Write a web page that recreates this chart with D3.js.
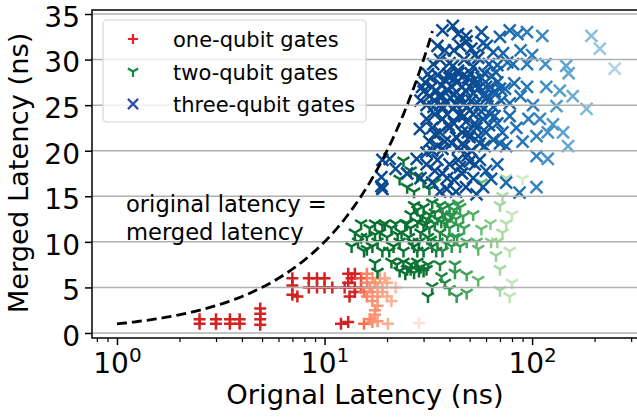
<!DOCTYPE html>
<html>
<head>
<meta charset="utf-8">
<script src="https://cdn.jsdelivr.net/npm/d3@7"></script>
<style>
  html, body { margin: 0; padding: 0; background: #fff; }
  svg { display: block; font-family: "DejaVu Sans", sans-serif; }
</style>
</head>
<body>
<svg id="chart" width="637" height="418"></svg>
<script>
// ---------------- data ----------------
const seriesNames = ["one-qubit gates", "two-qubit gates", "three-qubit gates"];
const yTicks = [0, 5, 10, 15, 20, 25, 30, 35];
const xTicks = [1, 10, 100];

// [original latency, merged latency]
const oneQubit = [
  [2.5,1],[2.5,1.5],[3,1],[3,1.5],[3.5,1],[3.5,1.5],[3.9,1],[3.9,1.5],
  [4.9,0.9],[4.9,1.5],[4.9,2.1],[4.9,2.7],
  [7,6],[7,5.2],[7,4.2],[7.4,4],[8.4,6],[8.4,5],[9.2,6],[9.2,5],[10,6],[10,5],[10.9,5],
  [12.5,5],[13,6.5],[13,5.5],[13.5,6],[14,6.5],[14,5],[14,4.5],[13.2,4],
  [15,6],[15,5],[15.5,4.5],[16,6.5],[16,5.5],[16,4],[16.5,5],[17,6],[17,4.5],[17,3.5],
  [17.5,5.5],[18,5],[18,4],[18,3],[18.5,6],[19,5],[19,4.5],[19.5,6],[20,5.5],[20,4],
  [21,3.5],[22,5],[17.5,2.5],
  [12,1],[13,1.2],[15.5,1],[16.5,1.5],[17,1.2],[17.5,2],[18,1.3],[20.2,1],[28.5,1.1]
];
const twoQubit = [
  [13.5,9.5],[14,11],[14.5,10],[15,12],[15.5,9],[16,10.5],[16.5,11.5],[17,9.5],[17.5,12],
  [18,10],[18.5,11],[19,9],[19.5,12],[20,10.5],[21,11.5],[21.5,9.5],[22,12],[23,10],
  [23.5,11],[24,9],[25,12],[25.5,10.5],[26,11.5],[27,9.5],[28,12.2],[28.5,10],[29,11],
  [30,9],[31,12],[31.5,10.5],[32,11.5],[33,9.5],[34,12],[35,10],[36,11],[37,9],[38,12],
  [39,10.5],[40,11.5],[41,9.5],[42,10.5],[44,11.8],[45,9.5],[48.4,10],[54,10],[55,9.2],
  [57,11.4],[63.5,10],[72,11],[78,9],
  [15,10.5],[16,9.2],[17.5,10.8],[19,11.8],[20.5,9],[22.5,10.8],[24.5,12],[26.5,10],
  [28,9],[30,11.8],[32.5,10.2],[34.5,9],[36.5,12.2],[38.5,9.8],[40.5,12.8],[43.5,10.5],
  [47,11.5],
  [26,13],[27,14],[29,12.8],[30,13.8],[31,12.5],[33,14.3],[34,13.2],[35,12.5],[36,14],
  [38,13],[39,12.3],[40,14],[42,13.5],[43,12.5],[45,13.8],[46.5,12.8],[52,13],[63,12],
  [70,14],[80,13],[28,13.5],[32,13],[37,13.6],[41,13],[44,14.2],
  [23,16.9],[24,18.9],[25,16],[26,17.8],[28,17.2],[30,16.6],[32,15.8],[27,15.5],[34,16.5],
  [57,16.5],[90,16.9],[75,17],
  [17.5,7.7],[18,6.7],[22.3,7.5],[23,6.8],[24,7.8],[25,7],[26,7.5],[27,6.6],[28,7.8],
  [29,7.2],[30,6.8],[31.5,7.5],[36,7.5],[36.6,6.2],[42.5,7.5],[42.5,6.6],[48.4,6.4],
  [26,7],[28.5,6.8],[31,7],[24.5,6.5],[21,7.8],
  [33,5.1],[31.5,4],[43.3,4],[48.4,4.4],[38,5.5],[40,4.8],[55,5.8],
  [70,7],[70,4.7],[78,4],[67,8.5],[75,12],[68,10],[80,5.5],[72,15]
];
const threeQubit = [
  [37,33.2],[41.5,33.7],[44,32.8],[48,32.6],[57,33],[78,33.2],[85,32.8],[94.5,33],
  [112,32.6],[193,32.6],[212,31.2],[250,29],
  [33.4,29.5],[36,30],[38,31],[41.5,29.3],[45,31.5],[48.4,32],[51,31.2],[55,30.2],
  [58,31.8],[60.5,31.5],[65,30.8],[68,29.4],[72.5,30.7],[76,29.7],[81,29.5],[94.5,29.5],
  [100,30.5],[116,29.5],[146,29.3],[150,28.5],[40,29.6],[52,29.2],[44,28.8],
  [47,30],[53,30.5],[62,29.5],[88,31],[70,32.5],[35,31.5],[42,31],
  [29,25.5],[30,26.5],[30.5,27.5],[31,25],[32,26],[32.5,28],[33,27],[34,25.5],[34.5,26.5],
  [35,28.3],[36,25],[36.5,27.2],[37,26],[38,27.8],[38.5,25.3],[39,26.7],[40,28],
  [40.5,25.8],[41,27],[42,26.2],[43,25],[43.5,27.5],[44,28.5],[45,26],[46,27],[47,25.2],
  [48,26.5],[49,28],[50,27],[51,25.5],[52,26.3],[53,27.8],[55,26.8],[56,25],[57,28],
  [58,26],[60,27],[62,25.5],[64,28.2],[66,26.5],[68,27.5],[71,25.5],[74,26.8],[78,25.2],
  [82,27.4],[88,26],[94.5,27],[101,25],[117,27],[131,24.9],[136,26.6],[157,26],[183,24.6],
  [29.5,27],[31.5,28.4],[33.5,24.8],[35.5,26],[37.5,24.7],[39.5,28.4],[41.5,24.6],
  [42.5,28],[44.5,25.5],[46.5,28.2],[48.5,24.8],[50.5,28.5],[53,25],[54,27.3],[59,28.5],
  [61,26],[63,27],[65,24.8],[67,28.6],[70,26.8],
  [28.8,22.4],[31,23.5],[32,21],[33,22.5],[34,24],[35,20.5],[36,22],[37,23.5],[38,21],
  [39,24],[40,22.5],[41,20.8],[42,23],[43,21.5],[45,24],[46,22],[47,20.5],[48,23.2],
  [50,21.5],[52,24],[54,22.5],[56,20.8],[58,23.5],[60,22],[63,24],[65,21.2],[68,23],
  [72,22],[75,20.5],[78,23.8],[84,22.5],[90,21],[96,23.5],[105,21.6],[109,23.5],
  [119,22],[126,22.9],[141,22],[149,20.5],
  [33,20],[34,21.8],[37,20.2],[39.5,22.8],[44,20.3],[47,23.8],[49,22],[51,20],[53,23],
  [55,21.6],[57,24.3],[59,20.5],[62,22.8],[66,23.8],[70,20.8],
  [19,19],[18.8,16.1],[18.8,17.1],[20.6,19.1],[19,15.8],[22,18],[25,17.5],[27.8,19.1],
  [29,17],[31,18.5],[33,16.5],[35,19],[37,17.5],[38.8,15.8],[40,18.5],[42,16.8],[44,19],
  [46,17.5],[48,16],[50,18.8],[52,17],[54,15.2],[56,19],[60,17.8],[63.5,16.9],[68,18.5],
  [75,16.5],[87,15.4],[105,19.4],[105,16],[119,19.1],
  [31,19.8],[34,17.8],[36,15.5],[39,17],[43,15.5],[45,18.2],[49,19.5],[53,18.5],[58,16]
];

// ---------------- layout ----------------
const plot = { left: 92, right: 640, top: 10, bottom: 338 };
const svg = d3.select("#chart");

const x = d3.scaleLog().domain([0.758, 331]).range([plot.left, plot.right]);
const y = d3.scaleLinear().domain([-0.55, 35.44]).range([plot.bottom, plot.top]);

// colour shading per series (by original latency)
const redT = d3.scaleLog().domain([14, 16, 30]).range([0.72, 0.42, 0.08]).clamp(true);
const greenT = d3.scaleLog().domain([30, 50, 85]).range([0.85, 0.62, 0.22]).clamp(true);
const blueT = d3.scaleLog().domain([50, 100, 260]).range([0.9, 0.7, 0.3]).clamp(true);

const markers = {
  plus: "M-6,0H6M0,-6V6",
  tri: "M0,0V6.5M0,0L-6,-3.6M0,0L6,-3.6",
  cross: "M-6,-6L6,6M-6,6L6,-6"
};

svg.append("clipPath").attr("id", "clip")
  .append("rect").attr("x", plot.left).attr("y", plot.top)
  .attr("width", plot.right - plot.left).attr("height", plot.bottom - plot.top);

const pts = svg.append("g").attr("clip-path", "url(#clip)");

function drawSeries(data, path, colorFn) {
  pts.append("g").selectAll("path").data(data).join("path")
    .attr("d", path)
    .attr("transform", d => `translate(${x(d[0])},${y(d[1])})`)
    .attr("fill", "none")
    .attr("stroke", d => colorFn(d))
    .attr("stroke-width", 2.5);
}
drawSeries(oneQubit, markers.plus, d => d3.interpolateReds(redT(d[0])));
drawSeries(twoQubit, markers.tri, d => d3.interpolateGreens(greenT(d[0])));
drawSeries(threeQubit, markers.cross, d => d3.interpolateBlues(blueT(d[0])));

// gridlines (drawn above the markers)
svg.append("g")
  .selectAll("line").data(yTicks).join("line")
  .attr("x1", plot.left).attr("x2", plot.right)
  .attr("y1", d => y(d)).attr("y2", d => y(d))
  .attr("stroke", "#b0b0b0").attr("stroke-width", 1.5);

// reference line y = x
const refX = d3.range(0, 1.532, 0.02).map(v => Math.pow(10, v));
svg.append("path")
  .datum(refX)
  .attr("d", d3.line().x(d => x(d)).y(d => y(d)))
  .attr("fill", "none").attr("stroke", "#000")
  .attr("stroke-width", 2.8).attr("stroke-dasharray", "10,5");

// axes
const yAxis = d3.axisLeft(y).tickValues(yTicks).tickSize(7).tickPadding(5);
const gy = svg.append("g").attr("transform", `translate(${plot.left},0)`).call(yAxis);
gy.select(".domain").remove();
gy.selectAll(".tick line").attr("stroke-width", 1.5);
gy.selectAll(".tick text").attr("font-size", 28).attr("fill", "#000")
  .attr("font-family", "DejaVu Sans").attr("dy", "0.44em");

const minor = [0.8, 0.9];
[2,3,4,5,6,7,8,9].forEach(m => { minor.push(m); minor.push(m * 10); minor.push(m * 100); });
const minorTicks = minor.filter(v => v >= 0.758 && v <= 331);

const gxm = svg.append("g").attr("transform", `translate(0,${plot.bottom})`)
  .call(d3.axisBottom(x).tickValues(minorTicks).tickSize(4).tickFormat(""));
gxm.select(".domain").remove();
gxm.selectAll(".tick line").attr("stroke-width", 1.2);

const gx = svg.append("g").attr("transform", `translate(0,${plot.bottom})`)
  .call(d3.axisBottom(x).tickValues(xTicks).tickSize(7).tickFormat(""));
gx.select(".domain").remove();
gx.selectAll(".tick line").attr("stroke-width", 1.5);
gx.selectAll(".tick").append("text")
  .attr("y", 35).attr("text-anchor", "middle").attr("fill", "#000")
  .attr("font-size", 28).attr("font-family", "DejaVu Sans")
  .each(function(d) {
    const t = d3.select(this);
    t.append("tspan").text("10");
    t.append("tspan").attr("font-size", 20).attr("dy", -11).text(String(Math.round(Math.log10(d))));
  });

// spines
svg.append("rect")
  .attr("x", plot.left).attr("y", plot.top)
  .attr("width", plot.right - plot.left).attr("height", plot.bottom - plot.top)
  .attr("fill", "none").attr("stroke", "#000").attr("stroke-width", 1.5);

// axis labels
svg.append("text")
  .attr("x", 365).attr("y", 404).attr("text-anchor", "middle")
  .attr("font-size", 27.3).attr("fill", "#000")
  .text("Orignal Latency (ns)");
svg.append("text")
  .attr("transform", "translate(28,173) rotate(-90)")
  .attr("text-anchor", "middle")
  .attr("font-size", 27.3).attr("fill", "#000")
  .text("Merged Latency (ns)");

// annotation
const ann = svg.append("text").attr("font-size", 22.6).attr("fill", "#000");
ann.append("tspan").attr("x", 126).attr("y", 212).text("original latency =");
ann.append("tspan").attr("x", 126).attr("y", 239.5).text("merged latency");

// legend
const legendColors = ["#e8202a", "#168a3c", "#2c4fa8"];
const legendPaths = [markers.plus, markers.tri, markers.cross];
const lg = svg.append("g");
lg.append("rect")
  .attr("x", 103).attr("y", 20).attr("width", 263).attr("height", 102)
  .attr("rx", 4).attr("fill", "#fff").attr("fill-opacity", 0.8)
  .attr("stroke", "#d6d6d6").attr("stroke-width", 1.2);
const rows = lg.selectAll("g.row").data(seriesNames).join("g")
  .attr("class", "row")
  .attr("transform", (d, i) => `translate(0,${39 + i * 32.5})`);
rows.append("path")
  .attr("d", (d, i) => legendPaths[i])
  .attr("transform", "translate(133,0) scale(0.85)")
  .attr("fill", "none")
  .attr("stroke", (d, i) => legendColors[i])
  .attr("stroke-width", 2.6);
rows.append("text")
  .attr("x", 173).attr("y", 8)
  .attr("font-size", 21).attr("fill", "#000")
  .text(d => d);
</script>
</body>
</html>
